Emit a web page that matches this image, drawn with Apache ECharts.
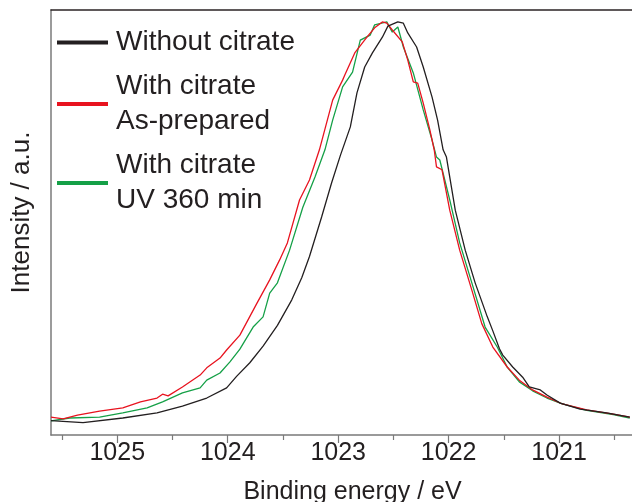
<!DOCTYPE html>
<html>
<head>
<meta charset="utf-8">
<title>Binding energy</title>
<script src="https://cdn.jsdelivr.net/npm/echarts@6/dist/echarts.min.js"></script>
<style>
  html, body { margin: 0; padding: 0; background: #fff; }
  #chart { width: 632px; height: 502px; }
</style>
</head>
<body>
<div id="chart"></div>
<script>
// series names (legend)
var seriesNames = ['Without citrate', 'With citrate\nAs-prepared', 'With citrate\nUV 360 min'];
var seriesColors = ['#231f20', '#e8131f', '#15a047'];

// tick marks on the energy axis
var majorTicks = [1025, 1024, 1023, 1022, 1021];
var minorTicks = [1025.5, 1024.5, 1023.5, 1022.5, 1021.5, 1020.5];

// [binding energy eV, normalised intensity]
var withoutCitrate = [
  [1025.60, 0.034], [1025.31, 0.029], [1024.95, 0.040], [1024.64, 0.052],
  [1024.41, 0.068], [1024.19, 0.087], [1024.01, 0.111], [1023.92, 0.138],
  [1023.80, 0.170], [1023.68, 0.209], [1023.55, 0.258], [1023.42, 0.318],
  [1023.33, 0.370], [1023.26, 0.420], [1023.15, 0.513], [1023.06, 0.593],
  [1022.98, 0.658], [1022.89, 0.725], [1022.83, 0.805], [1022.76, 0.866],
  [1022.69, 0.899], [1022.60, 0.936], [1022.55, 0.962], [1022.46, 0.972],
  [1022.41, 0.969], [1022.37, 0.946], [1022.29, 0.913], [1022.23, 0.866],
  [1022.15, 0.795], [1022.10, 0.741], [1022.05, 0.671], [1022.02, 0.654],
  [1021.94, 0.529], [1021.85, 0.435], [1021.76, 0.358], [1021.65, 0.278],
  [1021.60, 0.245], [1021.54, 0.203], [1021.51, 0.188], [1021.42, 0.160],
  [1021.33, 0.136], [1021.27, 0.113], [1021.17, 0.106], [1021.11, 0.094],
  [1020.99, 0.075], [1020.81, 0.061], [1020.57, 0.052], [1020.36, 0.042]
];

var asPrepared = [
  [1025.60, 0.042], [1025.49, 0.038], [1025.36, 0.047], [1025.16, 0.056],
  [1024.95, 0.064], [1024.79, 0.078], [1024.64, 0.087], [1024.59, 0.096],
  [1024.54, 0.092], [1024.41, 0.113], [1024.25, 0.141], [1024.19, 0.158],
  [1024.07, 0.181], [1024.01, 0.200], [1023.89, 0.235], [1023.74, 0.308],
  [1023.62, 0.365], [1023.53, 0.412], [1023.46, 0.452], [1023.35, 0.553],
  [1023.26, 0.600], [1023.17, 0.671], [1023.05, 0.788], [1022.96, 0.835],
  [1022.94, 0.847], [1022.85, 0.899], [1022.74, 0.936], [1022.67, 0.958],
  [1022.60, 0.972], [1022.56, 0.969], [1022.51, 0.953], [1022.42, 0.925],
  [1022.37, 0.882], [1022.32, 0.831], [1022.28, 0.828], [1022.23, 0.781],
  [1022.17, 0.718], [1022.13, 0.670], [1022.11, 0.631], [1022.06, 0.624],
  [1021.99, 0.529], [1021.90, 0.435], [1021.79, 0.341], [1021.70, 0.262],
  [1021.60, 0.207], [1021.47, 0.160], [1021.36, 0.129], [1021.24, 0.106],
  [1021.11, 0.089], [1020.97, 0.073], [1020.75, 0.059], [1020.51, 0.049],
  [1020.36, 0.042]
];

var uv360 = [
  [1025.60, 0.033], [1025.43, 0.040], [1025.16, 0.042], [1024.95, 0.052],
  [1024.73, 0.064], [1024.59, 0.078], [1024.41, 0.099], [1024.25, 0.111],
  [1024.19, 0.129], [1024.07, 0.146], [1023.98, 0.172], [1023.89, 0.202],
  [1023.77, 0.254], [1023.68, 0.278], [1023.62, 0.334], [1023.55, 0.358],
  [1023.44, 0.435], [1023.32, 0.536], [1023.21, 0.607], [1023.12, 0.671],
  [1023.05, 0.741], [1022.96, 0.819], [1022.87, 0.854], [1022.80, 0.929],
  [1022.71, 0.941], [1022.67, 0.965], [1022.56, 0.972], [1022.51, 0.948],
  [1022.46, 0.960], [1022.41, 0.913], [1022.32, 0.852], [1022.23, 0.765],
  [1022.15, 0.694], [1022.11, 0.654], [1022.08, 0.647], [1021.99, 0.553],
  [1021.90, 0.452], [1021.79, 0.358], [1021.67, 0.254], [1021.56, 0.207],
  [1021.47, 0.160], [1021.36, 0.125], [1021.24, 0.104], [1021.11, 0.087],
  [1020.97, 0.073], [1020.75, 0.058], [1020.51, 0.048], [1020.36, 0.040]
];

var seriesData = [withoutCitrate, asPrepared, uv360];

var textColor = '#231f20';
var fontFamily = 'Liberation Sans, Arial, sans-serif';
var xMin = 1020.34, xMax = 1025.6;

var chart = echarts.init(document.getElementById('chart'));

var option = {
  animation: false,
  backgroundColor: '#fff',
  grid: { left: 51, right: 0, top: 10, bottom: 67, containLabel: false, outerBoundsMode: 'none' },
  legend: {
    orient: 'vertical',
    left: 57,
    top: 25,
    padding: 0,
    itemGap: 9,
    itemWidth: 51,
    itemHeight: 4,
    icon: 'rect',
    selectedMode: false,
    data: seriesNames,
    textStyle: {
      color: textColor,
      fontFamily: fontFamily,
      fontSize: 28,
      lineHeight: 35,
      padding: [0, 0, 0, 3]
    }
  },
  xAxis: [
    {
      type: 'value',
      inverse: true,
      min: xMin,
      max: xMax,
      position: 'bottom',
      name: 'Binding energy / eV',
      nameLocation: 'middle',
      nameGap: 45,
      nameTextStyle: { color: textColor, fontFamily: fontFamily, fontSize: 25, padding: [0, 0, 0, 22] },
      axisLine: { show: true, lineStyle: { color: '#7a7a7a', width: 1.5 } },
      axisTick: { show: true, inside: false, length: 8, customValues: majorTicks, lineStyle: { color: '#7a7a7a', width: 1.2 } },
      axisLabel: {
        show: true, margin: 6, customValues: majorTicks, color: textColor, fontFamily: fontFamily, fontSize: 25,
        formatter: function (v) { return String(v); }
      },
      splitLine: { show: false }
    },
    {
      type: 'value',
      inverse: true,
      min: xMin,
      max: xMax,
      position: 'bottom',
      axisLine: { show: false },
      axisTick: { show: true, inside: false, length: 5, customValues: minorTicks, lineStyle: { color: '#7a7a7a', width: 1.2 } },
      axisLabel: { show: false },
      splitLine: { show: false }
    },
    {
      type: 'value',
      inverse: true,
      min: xMin,
      max: xMax,
      position: 'top',
      axisLine: { show: true, lineStyle: { color: '#2b2325', width: 1.5 } },
      axisTick: { show: false },
      axisLabel: { show: false },
      splitLine: { show: false }
    }
  ],
  yAxis: {
    type: 'value',
    min: 0,
    max: 1,
    name: 'Intensity / a.u.',
    nameLocation: 'middle',
    nameGap: 16,
    nameRotate: 90,
    nameTextStyle: { color: textColor, fontFamily: fontFamily, fontSize: 26, padding: [0, 0, 0, 20] },
    axisLine: { show: true, lineStyle: { color: '#7a7a7a', width: 1.5 } },
    axisTick: { show: false },
    axisLabel: { show: false },
    splitLine: { show: false }
  },
  series: seriesNames.map(function (name, i) {
    return {
      name: name,
      type: 'line',
      xAxisIndex: 0,
      data: seriesData[i],
      showSymbol: false,
      symbol: 'none',
      color: seriesColors[i],
      lineStyle: { color: seriesColors[i], width: 1.3 },
      z: 3 - i
    };
  })
};

chart.setOption(option);
</script>
</body>
</html>
